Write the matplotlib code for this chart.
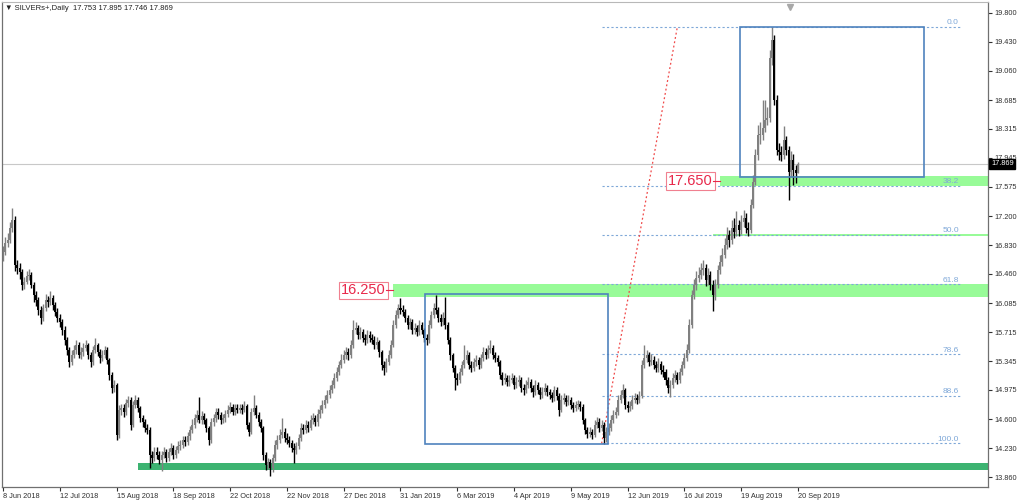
import numpy as np
import matplotlib.pyplot as plt
from matplotlib.patches import Rectangle
import matplotlib.transforms as mtransforms

plt.rcParams['font.family'] = ['Liberation Sans', 'DejaVu Sans']

# SILVERs+ daily bars, 8 Jun 2018 .. 20 Sep 2019
first_open = 16.70
closes = [
    16.74, 16.86, 16.89, 17.05, 17.15, 16.57, 16.54, 16.48, 16.32, 16.36,
    16.43, 16.45, 16.32, 16.19, 16.13, 16.00, 15.90, 16.02, 16.13, 16.10,
    16.15, 16.06, 15.97, 15.90, 15.84, 15.74, 15.61, 15.49, 15.33, 15.42,
    15.49, 15.55, 15.42, 15.46, 15.51, 15.55, 15.42, 15.33, 15.49, 15.55,
    15.46, 15.38, 15.42, 15.49, 15.36, 15.17, 15.00, 15.04, 14.40, 14.72,
    14.74, 14.69, 14.81, 14.85, 14.53, 14.78, 14.85, 14.74, 14.61, 14.56,
    14.49, 14.46, 14.14, 14.10, 14.18, 14.14, 14.08, 14.14, 14.18, 14.10,
    14.18, 14.23, 14.14, 14.21, 14.26, 14.27, 14.33, 14.31, 14.38, 14.46,
    14.53, 14.61, 14.65, 14.59, 14.64, 14.59, 14.49, 14.33, 14.56, 14.61,
    14.69, 14.65, 14.59, 14.61, 14.67, 14.72, 14.76, 14.69, 14.74, 14.72,
    14.74, 14.72, 14.77, 14.53, 14.44, 14.69, 14.74, 14.65, 14.56, 14.49,
    14.14, 14.01, 14.05, 13.97, 14.10, 14.27, 14.33, 14.40, 14.44, 14.36,
    14.33, 14.30, 14.23, 14.21, 14.26, 14.36, 14.49, 14.46, 14.53, 14.49,
    14.59, 14.61, 14.56, 14.67, 14.72, 14.78, 14.85, 14.91, 14.97, 15.04,
    15.13, 15.20, 15.29, 15.36, 15.42, 15.46, 15.42, 15.55, 15.74, 15.77,
    15.68, 15.72, 15.64, 15.61, 15.68, 15.64, 15.61, 15.55, 15.59, 15.46,
    15.29, 15.26, 15.33, 15.42, 15.55, 15.81, 15.93, 16.02, 16.00, 15.97,
    15.90, 15.81, 15.84, 15.74, 15.77, 15.72, 15.81, 15.74, 15.64, 15.61,
    15.81, 15.93, 16.02, 16.00, 15.90, 15.84, 15.90, 15.81, 15.61, 15.42,
    15.26, 15.13, 15.10, 15.20, 15.29, 15.36, 15.42, 15.29, 15.26, 15.33,
    15.36, 15.29, 15.38, 15.46, 15.42, 15.49, 15.51, 15.42, 15.38, 15.33,
    15.17, 15.10, 15.13, 15.08, 15.10, 15.13, 15.04, 15.08, 15.10, 15.00,
    14.97, 15.04, 15.08, 15.00, 14.95, 15.04, 14.97, 14.91, 14.95, 15.00,
    14.95, 14.91, 14.87, 14.97, 14.90, 14.72, 14.85, 14.87, 14.82, 14.85,
    14.78, 14.74, 14.78, 14.79, 14.76, 14.59, 14.46, 14.41, 14.44, 14.40,
    14.53, 14.56, 14.49, 14.53, 14.36, 14.44, 14.49, 14.59, 14.65, 14.69,
    14.85, 14.91, 14.97, 14.78, 14.74, 14.77, 14.85, 14.87, 14.85, 14.90,
    15.29, 15.38, 15.42, 15.33, 15.36, 15.29, 15.26, 15.31, 15.23, 15.20,
    15.10, 15.00, 15.04, 15.13, 15.17, 15.10, 15.20, 15.29, 15.38, 15.49,
    15.81, 16.19, 16.32, 16.41, 16.45, 16.51, 16.54, 16.38, 16.45, 16.32,
    16.19, 16.32, 16.51, 16.61, 16.70, 16.83, 16.96, 16.89, 17.05, 17.00,
    17.09, 17.02, 17.12, 17.18, 17.05, 17.02, 17.34, 17.64, 17.98, 18.24,
    18.24, 18.33, 18.43, 18.46, 19.22, 19.45, 18.69, 18.05, 18.02, 17.98,
    18.17, 18.05, 17.76, 17.92, 17.79, 17.753, 17.869,
]
highs = [
    16.82, 16.93, 16.98, 17.12, 17.30, 17.20, 16.64, 16.60, 16.52, 16.42,
    16.50, 16.52, 16.49, 16.36, 16.24, 16.16, 16.05, 16.08, 16.20, 16.18,
    16.24, 16.19, 16.10, 16.02, 15.95, 15.88, 15.79, 15.65, 15.53, 15.48,
    15.55, 15.62, 15.59, 15.52, 15.57, 15.61, 15.58, 15.46, 15.54, 15.64,
    15.58, 15.50, 15.48, 15.54, 15.52, 15.39, 15.21, 15.10, 15.07, 14.78,
    14.80, 14.79, 14.86, 14.90, 14.88, 14.83, 14.91, 14.88, 14.77, 14.66,
    14.60, 14.54, 14.50, 14.20, 14.24, 14.24, 14.19, 14.20, 14.24, 14.22,
    14.23, 14.29, 14.27, 14.26, 14.32, 14.34, 14.39, 14.38, 14.44, 14.52,
    14.60, 14.67, 14.72, 14.88, 14.70, 14.68, 14.62, 14.52, 14.61, 14.67,
    14.75, 14.74, 14.69, 14.67, 14.72, 14.78, 14.82, 14.80, 14.79, 14.79,
    14.80, 14.79, 14.83, 14.80, 14.57, 14.75, 14.91, 14.78, 14.69, 14.60,
    14.52, 14.18, 14.11, 14.09, 14.16, 14.33, 14.40, 14.47, 14.62, 14.49,
    14.42, 14.39, 14.34, 14.29, 14.31, 14.41, 14.55, 14.54, 14.59, 14.58,
    14.65, 14.68, 14.66, 14.73, 14.78, 14.85, 14.91, 14.98, 15.04, 15.10,
    15.19, 15.27, 15.35, 15.43, 15.49, 15.53, 15.51, 15.61, 15.87, 15.84,
    15.81, 15.78, 15.76, 15.69, 15.74, 15.73, 15.69, 15.66, 15.65, 15.62,
    15.49, 15.35, 15.39, 15.48, 15.61, 15.87, 16.00, 16.08, 16.15, 16.06,
    16.01, 15.94, 15.90, 15.88, 15.83, 15.81, 15.87, 15.85, 15.77, 15.69,
    15.87, 15.99, 16.09, 16.19, 16.04, 15.95, 15.97, 16.17, 15.84, 15.65,
    15.45, 15.30, 15.19, 15.26, 15.35, 15.55, 15.48, 15.46, 15.34, 15.39,
    15.42, 15.40, 15.44, 15.52, 15.51, 15.55, 15.61, 15.55, 15.46, 15.42,
    15.36, 15.21, 15.19, 15.17, 15.16, 15.19, 15.17, 15.14, 15.16, 15.14,
    15.05, 15.10, 15.14, 15.12, 15.04, 15.10, 15.08, 15.01, 15.01, 15.06,
    15.04, 14.99, 14.95, 15.03, 15.01, 14.93, 14.91, 14.93, 14.91, 14.91,
    14.89, 14.82, 14.84, 14.85, 14.84, 14.80, 14.62, 14.50, 14.50, 14.48,
    14.59, 14.63, 14.61, 14.59, 14.56, 14.50, 14.55, 14.65, 14.72, 14.76,
    14.91, 14.98, 15.05, 15.00, 14.83, 14.83, 14.91, 14.93, 14.92, 14.96,
    15.36, 15.55, 15.48, 15.46, 15.43, 15.41, 15.34, 15.38, 15.35, 15.29,
    15.24, 15.14, 15.10, 15.19, 15.23, 15.21, 15.26, 15.35, 15.45, 15.56,
    15.88, 16.26, 16.40, 16.50, 16.55, 16.60, 16.64, 16.59, 16.53, 16.50,
    16.38, 16.40, 16.58, 16.70, 16.79, 16.92, 17.06, 17.02, 17.15, 17.18,
    17.26, 17.15, 17.22, 17.28, 17.24, 17.12, 17.42, 17.72, 18.06, 18.36,
    18.40, 18.69, 18.69, 18.60, 19.32, 19.62, 19.52, 18.75, 18.14, 18.10,
    18.35, 18.22, 18.10, 18.03, 18.00, 17.86, 17.895,
]
lows = [
    16.62, 16.70, 16.80, 16.85, 17.00, 16.50, 16.46, 16.40, 16.25, 16.27,
    16.33, 16.38, 16.28, 16.10, 16.05, 15.93, 15.82, 15.86, 15.98, 16.04,
    16.06, 16.00, 15.92, 15.84, 15.78, 15.68, 15.55, 15.42, 15.27, 15.29,
    15.38, 15.44, 15.38, 15.37, 15.41, 15.47, 15.37, 15.27, 15.30, 15.45,
    15.41, 15.32, 15.34, 15.38, 15.31, 15.10, 14.94, 14.95, 14.33, 14.36,
    14.66, 14.63, 14.65, 14.76, 14.46, 14.50, 14.74, 14.69, 14.56, 14.50,
    14.44, 14.41, 13.98, 14.04, 14.06, 14.09, 14.03, 13.94, 14.10, 14.05,
    14.06, 14.14, 14.09, 14.10, 14.17, 14.21, 14.23, 14.26, 14.27, 14.34,
    14.42, 14.49, 14.57, 14.55, 14.54, 14.54, 14.44, 14.27, 14.30, 14.52,
    14.57, 14.60, 14.54, 14.55, 14.57, 14.63, 14.68, 14.65, 14.65, 14.68,
    14.68, 14.67, 14.69, 14.48, 14.38, 14.41, 14.65, 14.61, 14.51, 14.44,
    14.08, 13.95, 13.96, 13.88, 13.93, 14.06, 14.22, 14.29, 14.36, 14.31,
    14.28, 14.25, 14.18, 14.04, 14.15, 14.22, 14.32, 14.41, 14.42, 14.44,
    14.46, 14.54, 14.51, 14.52, 14.62, 14.68, 14.74, 14.81, 14.87, 14.93,
    15.00, 15.09, 15.16, 15.25, 15.32, 15.37, 15.36, 15.38, 15.51, 15.69,
    15.63, 15.63, 15.59, 15.55, 15.57, 15.59, 15.56, 15.50, 15.50, 15.40,
    15.23, 15.17, 15.21, 15.29, 15.38, 15.52, 15.77, 15.89, 15.95, 15.92,
    15.85, 15.76, 15.76, 15.69, 15.69, 15.67, 15.68, 15.69, 15.59, 15.55,
    15.57, 15.77, 15.89, 15.95, 15.85, 15.79, 15.80, 15.76, 15.56, 15.36,
    15.20, 14.98, 15.04, 15.06, 15.16, 15.25, 15.32, 15.24, 15.20, 15.22,
    15.28, 15.24, 15.25, 15.34, 15.37, 15.38, 15.45, 15.37, 15.33, 15.28,
    15.11, 15.04, 15.05, 15.02, 15.03, 15.06, 14.99, 15.00, 15.03, 14.95,
    14.91, 14.93, 15.00, 14.95, 14.89, 14.91, 14.92, 14.86, 14.87, 14.91,
    14.90, 14.86, 14.82, 14.83, 14.85, 14.64, 14.69, 14.80, 14.77, 14.78,
    14.73, 14.69, 14.70, 14.73, 14.71, 14.54, 14.41, 14.36, 14.37, 14.35,
    14.37, 14.49, 14.44, 14.45, 14.28, 14.31, 14.40, 14.45, 14.55, 14.61,
    14.65, 14.81, 14.87, 14.73, 14.69, 14.70, 14.73, 14.81, 14.80, 14.81,
    14.87, 15.25, 15.33, 15.28, 15.29, 15.24, 15.20, 15.21, 15.18, 15.14,
    15.04, 14.94, 14.88, 15.00, 15.08, 15.05, 15.06, 15.16, 15.25, 15.34,
    15.45, 15.77, 16.14, 16.26, 16.36, 16.40, 16.44, 16.30, 16.32, 16.25,
    15.98, 16.12, 16.28, 16.46, 16.56, 16.66, 16.78, 16.80, 16.84, 16.92,
    16.94, 16.95, 16.97, 17.06, 16.98, 16.94, 16.98, 17.30, 17.60, 17.92,
    18.12, 18.18, 18.28, 18.36, 18.40, 19.14, 18.62, 17.98, 17.92, 17.90,
    17.93, 17.98, 17.41, 17.70, 17.60, 17.62, 17.746,
]

date_labels = ['8 Jun 2018', '12 Jul 2018', '15 Aug 2018', '18 Sep 2018',
               '22 Oct 2018', '22 Nov 2018', '27 Dec 2018', '31 Jan 2019',
               '6 Mar 2019', '4 Apr 2019', '9 May 2019', '12 Jun 2019',
               '16 Jul 2019', '19 Aug 2019', '20 Sep 2019']
price_ticks = [19.800, 19.430, 19.060, 18.685, 18.315, 17.945, 17.575, 17.200,
               16.830, 16.460, 16.085, 15.715, 15.345, 14.975, 14.600, 14.230, 13.860]

# fibonacci retracement drawn from the May low to the Sep high
fib_low = 14.29
fib_high = 19.62
fib_bars = [253, 285]
fib_end_bar = 404.5
fib_levels = [0.0, 38.2, 50.0, 61.8, 78.6, 88.6, 100.0]

# support zones: (bottom, top, start bar)
light_zones = [(16.16, 16.33, 164.8), (17.59, 17.71, 303.0), (16.94, 16.97, 300.0)]
dark_zone = (13.95, 14.04, 57.0)
level_labels = [(16.25, 164.8), (17.65, 303.0)]

# boxes: (bar0, bar1, price0, price1)
boxes = [(178.4, 255.7, 14.28, 16.20), (311.5, 389.3, 17.70, 19.62)]

last_price = 17.869

closes = np.array(closes)
highs = np.array(highs)
lows = np.array(lows)
opens = np.r_[first_open, closes[:-1]]
x = np.arange(len(closes))

fig = plt.figure(figsize=(10.24, 5.03), dpi=100)
ax = fig.add_axes([2 / 1024, 16 / 503, 986 / 1024, 485 / 503])
xmax = 416.3

# zones
for lo, hi, start in light_zones:
    ax.add_patch(Rectangle((start, lo), xmax - start, hi - lo, facecolor='#98FB98',
                           edgecolor='none', zorder=0))
lo, hi, start = dark_zone
ax.add_patch(Rectangle((start, lo), xmax - start, hi - lo, facecolor='#3CB371',
                       edgecolor='none', zorder=0))

# current price line
ax.axhline(last_price, color='#C8C8C8', lw=0.8, zorder=0.5)

# fibonacci
rng = fib_high - fib_low
for lev in fib_levels:
    p = fib_high - rng * lev / 100
    ax.hlines(p, fib_bars[0], fib_end_bar, colors='#7FA8D8', linestyles=(0, (2, 2)),
              lw=0.8, zorder=1)
    ax.text(fib_end_bar - 0.5, p + 0.01, f'{lev:.1f}', color='#7FA8D8', fontsize=6,
            ha='right', va='bottom', zorder=5)
ax.plot(fib_bars, [fib_low, fib_high], color='#F04848', ls=(0, (1.5, 2)), lw=0.9, zorder=1)

# candles
up = closes >= opens
cols = np.where(up, '#808080', '#000000')
ax.vlines(x, lows, highs, colors=cols, lw=1.0, zorder=2)
body_lo = np.minimum(opens, closes)
body_h = np.maximum(np.abs(closes - opens), 0.012)
ax.bar(x, body_h, bottom=body_lo, width=0.85, color=cols, linewidth=0, zorder=2)

# boxes
for b0, b1, p0, p1 in boxes:
    ax.add_patch(Rectangle((b0, p0), b1 - b0, p1 - p0, fill=False, edgecolor='#4F83BE',
                           lw=1.2, zorder=3))

# price labels
for price, start in level_labels:
    ax.text(start - 3.0, price, f'{price:.3f}', color='#E8284A', fontsize=10.5,
            ha='right', va='center', zorder=6,
            bbox=dict(boxstyle='square,pad=0.12', facecolor='white', edgecolor='#F08090', lw=0.8))
    ax.plot([start - 2.8, start], [price, price], color='#E8284A', lw=0.8, zorder=6)

ax.set_xlim(-0.42, xmax)
ax.set_ylim(13.733, 19.94)

ax.yaxis.tick_right()
ax.set_yticks(price_ticks)
ax.set_yticklabels([f'{p:.3f}' for p in price_ticks])
ax.tick_params(axis='y', length=3, width=0.8, pad=1.5, labelsize=5.3, colors='#303030')

ax.set_xticks(np.arange(0, 24 * len(date_labels), 24))
ax.set_xticklabels(date_labels, ha='left')
ax.tick_params(axis='x', length=3, width=0.8, pad=1.5, labelsize=5.3, colors='#303030')

for s in ['left', 'right', 'bottom']:
    ax.spines[s].set_color('#707070')
    ax.spines[s].set_linewidth(0.9)
ax.spines['top'].set_color('#B8B8B8')

# current price tag on the axis
trans = mtransforms.blended_transform_factory(ax.transAxes, ax.transData)
ax.text(1.003, last_price, f'{last_price:.3f}', transform=trans, color='white', fontsize=5.3,
        ha='left', va='center', zorder=7, clip_on=False,
        bbox=dict(boxstyle='square,pad=0.2', facecolor='black', edgecolor='black'))

# chart shift marker
ax.plot([0.799], [0.99], transform=ax.transAxes, marker='v', ms=4, color='#A8A8A8',
        clip_on=False, zorder=7)

fig.text(5 / 1024, 1 - 8 / 503, '\u25bc SILVERs+,Daily  17.753 17.895 17.746 17.869',
         fontsize=5.5, va='center', ha='left', color='#202020')

fig.savefig('out.png', dpi=100, facecolor='white')
